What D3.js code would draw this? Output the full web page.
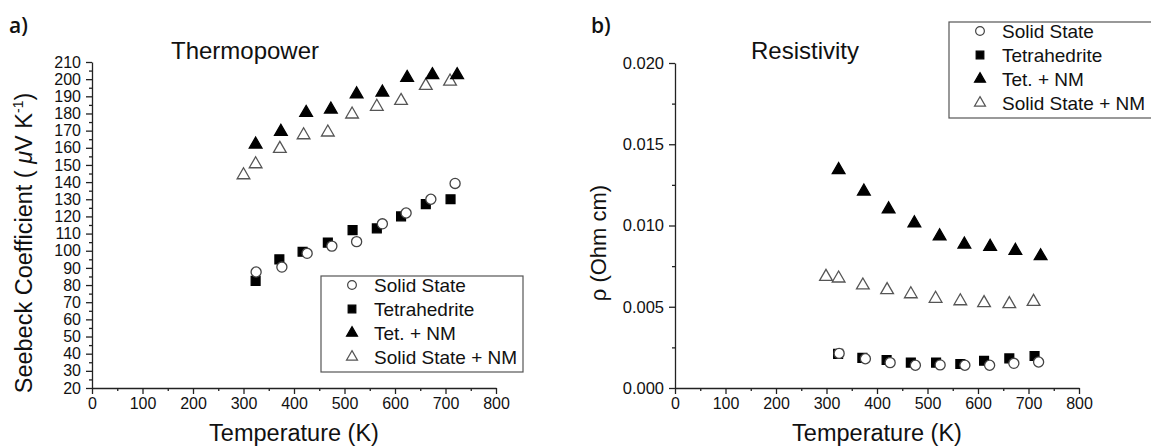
<!DOCTYPE html>
<html>
<head>
<meta charset="utf-8">
<script src="https://cdn.jsdelivr.net/npm/d3@7"></script>
<style>
  body { margin: 0; background: #fff; }
  svg text { font-family: "Liberation Sans", Arial, sans-serif; fill: #111; }
  .axis path, .axis line { stroke: #222; stroke-width: 1.3; }
</style>
</head>
<body>
<script>
var width = 1151,
    height = 446;

// ---- data ----
var seriesNames = ['Solid State', 'Tetrahedrite', 'Tet. + NM', 'Solid State + NM'];

// panel a: Seebeck coefficient (uV/K)
var ssT    = [325, 376, 426, 475, 524, 575, 622, 671, 719];
var ssS    = [87.6, 90.5, 98.5, 102.7, 105.3, 115.7, 122, 130, 139.2];
var tetT   = [324, 371, 417, 467, 516, 564, 612, 661, 710];
var tetS   = [82.4, 95, 99.4, 104.7, 112, 113, 120, 127.2, 130];
var tnmT   = [324, 374, 424, 473, 524, 575, 624, 674, 723];
var tnmS   = [162, 169.4, 180.4, 182.4, 191.2, 192.3, 200.8, 202.4, 202.4];
var ssnmT  = [300, 324, 372, 419, 467, 515, 564, 612, 661, 709];
var ssnmS  = [144.1, 150.5, 159.5, 167.4, 169, 179.5, 184, 187.4, 196.2, 198.7];

// panel b: resistivity (Ohm cm)
var ssRT   = [325, 377, 426, 476, 525, 574, 623, 671, 720];
var ssR    = [0.00213, 0.0018, 0.00156, 0.0014, 0.00142, 0.0014, 0.0014, 0.00152, 0.0016];
var tetRT  = [323, 371, 419, 467, 517, 565, 612, 662, 712];
var tetR   = [0.0021, 0.00185, 0.00172, 0.00156, 0.00156, 0.00148, 0.00168, 0.00182, 0.00197];
var tnmRT  = [324, 374, 423, 474, 524, 573, 624, 674, 724];
var tnmR   = [0.01342, 0.0121, 0.011, 0.01015, 0.00935, 0.00884, 0.0087, 0.00845, 0.00812];
var ssnmRT = [299, 324, 372, 420, 467, 516, 565, 612, 662, 710];
var ssnmR  = [0.00685, 0.00675, 0.00632, 0.00603, 0.00578, 0.0055, 0.00535, 0.00523, 0.00517, 0.00531];

var xTicks = [0, 100, 200, 300, 400, 500, 600, 700, 800];
var seebeckTicks = d3.range(20, 211, 10);
var rhoTicks = [0, 0.005, 0.010, 0.015, 0.020];

var zip = (xs, ys) => xs.map((x, i) => ({x: x, y: ys[i]}));

// marker styles per series
var markers = [
  {type: d3.symbolCircle,   size: 80, fill: '#fff', stroke: '#444'},
  {type: d3.symbolSquare,   size: 78, fill: '#000', stroke: '#000'},
  {type: d3.symbolTriangle, size: 70, fill: '#000', stroke: '#000'},
  {type: d3.symbolTriangle, size: 70, fill: '#fff', stroke: '#555'}
];

var svg = d3.select('body').append('svg')
    .attr('width', width)
    .attr('height', height);

function drawPanel(opt) {
  var x = d3.scaleLinear().domain([0, 800]).range([opt.left, opt.right]);
  var y = d3.scaleLinear().domain(opt.yDomain).range([opt.bottom, opt.top]);

  // minor ticks
  svg.append('g')
    .attr('class', 'axis')
    .attr('transform', 'translate(0,' + opt.bottom + ')')
    .call(d3.axisBottom(x).tickValues(d3.range(50, 800, 100)).tickSize(3).tickFormat(''))
    .select('.domain').remove();
  svg.append('g')
    .attr('class', 'axis')
    .attr('transform', 'translate(' + opt.left + ',0)')
    .call(d3.axisLeft(y).tickValues(opt.yMinor).tickSize(3).tickFormat(''))
    .select('.domain').remove();

  var xa = svg.append('g')
    .attr('class', 'axis')
    .attr('transform', 'translate(0,' + opt.bottom + ')')
    .call(d3.axisBottom(x).tickValues(xTicks).tickSizeInner(6).tickSizeOuter(0).tickPadding(4));
  xa.selectAll('text').style('font-size', '16px');

  var ya = svg.append('g')
    .attr('class', 'axis')
    .attr('transform', 'translate(' + opt.left + ',0)')
    .call(d3.axisLeft(y).tickValues(opt.yTicks).tickSizeInner(6).tickSizeOuter(0)
      .tickPadding(5).tickFormat(opt.yFormat));
  ya.selectAll('text').style('font-size', opt.yFont);

  opt.series.forEach(function(s, i) {
    var m = markers[s.m];
    svg.append('g').selectAll('path')
      .data(s.data)
      .enter().append('path')
      .attr('d', d3.symbol().type(m.type).size(m.size))
      .attr('transform', d => 'translate(' + x(d.x) + ',' + y(d.y) + ')')
      .attr('fill', m.fill)
      .attr('stroke', m.stroke)
      .attr('stroke-width', 1.3);
  });

  // titles
  svg.append('text')
    .attr('x', opt.titleX).attr('y', 59)
    .attr('text-anchor', 'middle')
    .style('font-size', '24px')
    .text(opt.title);

  svg.append('text')
    .attr('x', (opt.left + opt.right) / 2).attr('y', 441)
    .attr('text-anchor', 'middle')
    .style('font-size', '23.5px')
    .text('Temperature (K)');

  svg.append('text')
    .attr('x', opt.tag.x).attr('y', 33)
    .style('font-family', '"Open Sans", sans-serif')
    .style('font-weight', 600)
    .style('font-size', '21px')
    .text(opt.tag.t);

  // legend
  var lg = svg.append('g').attr('transform', 'translate(' + opt.legend.x + ',' + opt.legend.y + ')');
  lg.append('rect')
    .attr('width', opt.legend.w).attr('height', opt.legend.h)
    .attr('fill', '#fff').attr('stroke', '#555').attr('stroke-width', 1.2);
  seriesNames.forEach(function(name, i) {
    var m = markers[i];
    var ly = opt.legend.row0 + i * 24;
    lg.append('path')
      .attr('d', d3.symbol().type(m.type).size(m.size * 0.75))
      .attr('transform', 'translate(' + opt.legend.sym + ',' + ly + ')')
      .attr('fill', m.fill).attr('stroke', m.stroke).attr('stroke-width', 1.2);
    lg.append('text')
      .attr('x', opt.legend.txt).attr('y', ly + 7)
      .style('font-size', '19px')
      .text(name);
  });
}

drawPanel({
  left: 92, right: 496, top: 62, bottom: 388,
  yDomain: [20, 210], yTicks: seebeckTicks, yMinor: d3.range(25, 210, 10),
  yFormat: d3.format('d'), yFont: '16px',
  title: 'Thermopower', titleX: 245,
  tag: {x: 9, t: 'a)'},
  legend: {x: 321, y: 276, w: 202, h: 96, row0: 9, sym: 31, txt: 53},
  series: [
    {m: 3, data: zip(ssnmT, ssnmS)},
    {m: 2, data: zip(tnmT, tnmS)},
    {m: 1, data: zip(tetT, tetS)},
    {m: 0, data: zip(ssT, ssS)}
  ]
});

drawPanel({
  left: 675, right: 1079, top: 63, bottom: 388,
  yDomain: [0, 0.020], yTicks: rhoTicks, yMinor: [0.0025, 0.0075, 0.0125, 0.0175],
  yFormat: d3.format('.3f'), yFont: '16.5px',
  title: 'Resistivity', titleX: 805,
  tag: {x: 591, t: 'b)'},
  legend: {x: 949, y: 22, w: 205, h: 96, row0: 9, sym: 31, txt: 53},
  series: [
    {m: 3, data: zip(ssnmRT, ssnmR)},
    {m: 2, data: zip(tnmRT, tnmR)},
    {m: 1, data: zip(tetRT, tetR)},
    {m: 0, data: zip(ssRT, ssR)}
  ]
});

// y axis titles
var ta = svg.append('text')
  .attr('transform', 'translate(32,243) rotate(-90)')
  .attr('text-anchor', 'middle')
  .style('font-size', '23.5px');
ta.append('tspan').text('Seebeck Coefficient ( ');
ta.append('tspan').style('font-style', 'italic').text('\u03bc');
ta.append('tspan').text('V K');
ta.append('tspan').attr('dy', -9).style('font-size', '14px').text('-1');
ta.append('tspan').attr('dy', 9).text(')');

svg.append('text')
  .attr('transform', 'translate(606,243) rotate(-90)')
  .attr('text-anchor', 'middle')
  .style('font-size', '22px')
  .text('\u03c1 (Ohm cm)');
</script>
</body>
</html>
